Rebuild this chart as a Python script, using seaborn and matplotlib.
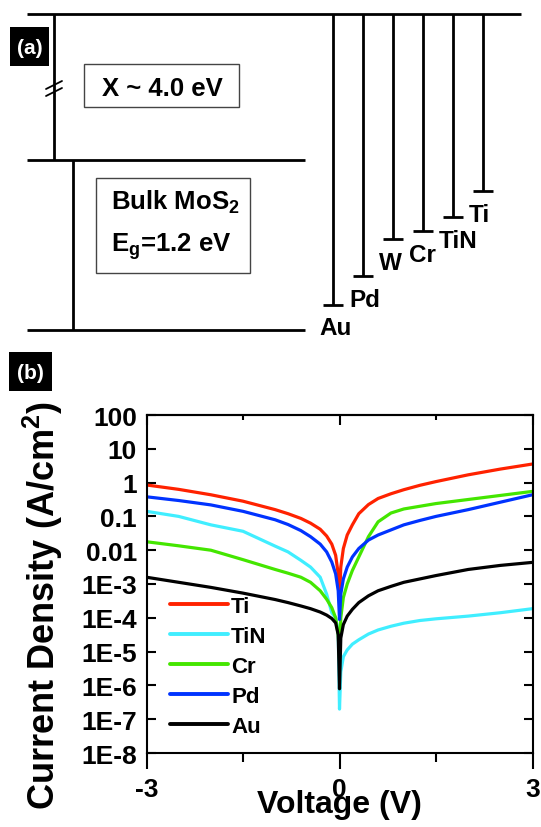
import numpy as np
import pandas as pd
import matplotlib
matplotlib.use("Agg")
import matplotlib.pyplot as plt
from matplotlib.patches import Rectangle
from matplotlib.ticker import FixedLocator, NullFormatter
import seaborn as sns

# ---------------- data ----------------
# panel (a): band diagram (energies below vacuum, eV)
chi = 4.0          # electron affinity
eg = 1.2           # band gap
metals_a = ["Au", "Pd", "W", "Cr", "TiN", "Ti"]
work_fn = [5.02, 4.82, 4.56, 4.50, 4.40, 4.22]

# panel (b): J-V curves, log10(J / A cm^-2)
voltage = [-3, -2.5, -2, -1.5, -1, -0.8, -0.6, -0.45, -0.3, -0.2, -0.12,
           -0.06, -0.02, 0, 0.02, 0.06, 0.12, 0.2, 0.3, 0.45, 0.6, 0.8, 1,
           1.25, 1.5, 2, 2.5, 3]
ti_log = [-0.07, -0.2, -0.36, -0.55, -0.8, -0.92, -1.06, -1.2, -1.38, -1.58,
          -1.82, -2.15, -2.7, -3.46, -2.5, -1.95, -1.55, -1.25, -0.92, -0.65,
          -0.47, -0.33, -0.21, -0.08, 0.03, 0.23, 0.4, 0.55]
tin_log = [-0.85, -1.0, -1.25, -1.44, -1.88, -2.05, -2.3, -2.5, -2.8, -3.3,
           -3.85, -4.0, -4.4, -6.7, -5.6, -5.15, -4.95, -4.78, -4.65, -4.48,
           -4.36, -4.25, -4.16, -4.08, -4.03, -3.95, -3.85, -3.73]
cr_log = [-1.75, -1.87, -2.0, -2.28, -2.57, -2.68, -2.8, -2.95, -3.2, -3.45,
          -3.7, -4.0, -4.5, -5.2, -4.0, -3.4, -3.0, -2.6, -2.2, -1.6,
          -1.16, -0.9, -0.78, -0.7, -0.62, -0.5, -0.38, -0.26]
pd_log = [-0.42, -0.53, -0.66, -0.85, -1.1, -1.24, -1.42, -1.6, -1.82, -2.05,
          -2.35, -2.7, -3.2, -4.05, -3.3, -2.85, -2.5, -2.2, -1.95, -1.7,
          -1.55, -1.4, -1.25, -1.12, -1.0, -0.8, -0.58, -0.36]
au_log = [-2.8, -2.95, -3.1, -3.27, -3.46, -3.55, -3.65, -3.73, -3.83, -3.92,
          -4.02, -4.15, -4.5, -6.1, -4.6, -4.2, -3.95, -3.75, -3.55, -3.35,
          -3.2, -3.07, -2.95, -2.85, -2.75, -2.57, -2.45, -2.36]
metals_b = ["Ti", "TiN", "Cr", "Pd", "Au"]
series_b = [ti_log, tin_log, cr_log, pd_log, au_log]
colors_b = ["#ff2200", "#40eeff", "#44e600", "#0033ff", "#000000"]

ytick_vals = [1e2, 1e1, 1e0, 1e-1, 1e-2, 1e-3, 1e-4, 1e-5, 1e-6, 1e-7, 1e-8]
ytick_labels = ["100", "10", "1", "0.1", "0.01", "1E-3", "1E-4", "1E-5",
                "1E-6", "1E-7", "1E-8"]

# ---------------- style ----------------
sns.set_theme(style="ticks")
plt.rcParams["font.family"] = ["Liberation Sans", "DejaVu Sans"]
plt.rcParams["font.weight"] = "bold"
plt.rcParams["text.color"] = "black"
plt.rcParams["axes.labelcolor"] = "black"
plt.rcParams["xtick.color"] = "black"
plt.rcParams["ytick.color"] = "black"
plt.rcParams["mathtext.fontset"] = "custom"
plt.rcParams["mathtext.rm"] = "Liberation Sans:bold"
plt.rcParams["mathtext.it"] = "Liberation Sans:bold"
plt.rcParams["mathtext.bf"] = "Liberation Sans:bold"
plt.rcParams["mathtext.default"] = "rm"

W, H = 541, 828
fig = plt.figure(figsize=(W / 100, H / 100), dpi=100)

# ---------------- panel (a) ----------------
axa = fig.add_axes([0, 0, 1, 1])
axa.set_xlim(0, W)
axa.set_ylim(H, 0)
axa.axis("off")

y_vac, y_cb = 15, 161
px_per_ev_gap = (331 - y_cb) / eg


def ey(e):
    """energy below vacuum (eV) -> diagram y (broken scale)"""
    if e <= chi:
        return y_vac + e * (y_cb - y_vac) / chi
    return y_cb + (e - chi) * px_per_ev_gap


lw_a = 2.0
k = dict(color="black", lw=lw_a, solid_capstyle="butt")
axa.plot([27, 521], [ey(0), ey(0)], **k)
axa.plot([27, 305], [ey(chi), ey(chi)], **k)
axa.plot([27, 305], [ey(chi + eg), ey(chi + eg)], **k)
axa.plot([54, 54], [ey(0), ey(chi)], **k)
axa.plot([73, 73], [ey(chi), ey(chi + eg)], **k)
# break mark
axa.plot([46, 62], [90, 82], color="black", lw=1.3)
axa.plot([46, 62], [97, 89], color="black", lw=1.3)

# boxes
axa.add_patch(Rectangle((84, 65), 155, 43, fill=False, ec="#444444", lw=1.0))
axa.text(162, 96, "X ~ 4.0 eV", fontsize=18.5, fontweight="bold",
         ha="center", va="baseline")
axa.add_patch(Rectangle((96, 179), 154, 95, fill=False, ec="#444444", lw=1.0))
axa.text(111, 210, r"Bulk MoS$_2$", fontsize=18.5, fontweight="bold",
         ha="left", va="baseline")
axa.text(111, 252, r"E$_\mathrm{g}$=1.2 eV", fontsize=18.5, fontweight="bold",
         ha="left", va="baseline")

# metals
metal_x0, metal_dx = 333, 30
for i, (m, wf) in enumerate(zip(metals_a, work_fn)):
    x = metal_x0 + i * metal_dx
    ye = ey(wf)
    axa.plot([x, x], [ey(0), ye], **k)
    axa.plot([x - 10, x + 10], [ye, ye], **k)
    axa.text(x - 14, ye + 30, m, fontsize=17.5, fontweight="bold",
             ha="left", va="baseline")

# panel labels
for (bx, by, bw, bh, lab) in [(10, 28, 39, 39, "(a)"), (9, 353, 43, 39, "(b)")]:
    axa.add_patch(Rectangle((bx, by), bw, bh, color="black", lw=0))
    axa.text(bx + bw / 2, by + bh / 2 + 1, lab, color="white", fontsize=15,
             fontweight="bold", ha="center", va="center")

# ---------------- panel (b) ----------------
L, R, T, B = 146.5, 532.5, 416, 754
axb = fig.add_axes([L / W, 1 - B / H, (R - L) / W, (B - T) / H])

rows = []
for m, s in zip(metals_b, series_b):
    for v, lg in zip(voltage, s):
        rows.append({"Voltage": v, "J": 10.0 ** lg, "Metal": m})
df = pd.DataFrame(rows)

sns.lineplot(data=df, x="Voltage", y="J", hue="Metal", hue_order=metals_b,
             palette=colors_b, estimator=None, sort=False, lw=2.3, ax=axb,
             legend=False)

axb.set_yscale("log")
axb.set_xlim(-3, 3)
axb.set_ylim(1e-8, 100)
axb.yaxis.set_major_locator(FixedLocator(ytick_vals))
axb.set_yticklabels(ytick_labels)
axb.yaxis.set_minor_locator(FixedLocator([]))
axb.set_xticks([-3, 0, 3])
axb.set_xticklabels(["-3", "0", "3"])
axb.xaxis.set_minor_locator(FixedLocator([-1.5, 1.5]))

for sp in axb.spines.values():
    sp.set_linewidth(1.5)
    sp.set_color("black")
    sp.set_visible(True)

axb.tick_params(axis="y", which="major", direction="in", length=6.5,
                width=1.5, left=True, right=True, pad=7, labelsize=19,
                color="black")
axb.tick_params(axis="x", which="major", direction="out", length=11.5,
                width=1.5, bottom=True, top=False, pad=5.5, labelsize=19,
                color="black")
axb.tick_params(axis="x", which="minor", direction="out", length=6.5,
                width=1.5, bottom=True, top=False, color="black")
for lab in axb.get_xticklabels() + axb.get_yticklabels():
    lab.set_fontweight("bold")

top = axb.secondary_xaxis("top")
top.set_xticks([-3, 0, 3])
top.xaxis.set_minor_locator(FixedLocator([-1.5, 1.5]))
top.xaxis.set_major_formatter(NullFormatter())
top.tick_params(axis="x", which="major", direction="in", length=7, width=1.5,
                color="black")
top.tick_params(axis="x", which="minor", direction="in", length=3.6, width=1.5,
                color="black")
top.spines["top"].set_linewidth(1.5)

axb.set_xlabel("Voltage (V)", fontsize=23, fontweight="bold", va="top")
axb.xaxis.set_label_coords(0.5, -0.107)
axb.set_ylabel(r"Current Density (A/cm$^2$)", fontsize=26, fontweight="bold")
axb.yaxis.set_label_coords(-0.212, 0.438)

handles = [plt.Line2D([], [], color=c, lw=2.8) for c in colors_b]
axb.legend(handles, metals_b, loc="upper left",
           bbox_to_anchor=((170 - L) / (R - L), (B - 597) / (B - T)),
           frameon=False, handlelength=2.6, handletextpad=0.15,
           labelspacing=0.4, borderaxespad=0, borderpad=0,
           prop={"weight": "bold", "size": 16})

fig.savefig("out.png", dpi=100)
